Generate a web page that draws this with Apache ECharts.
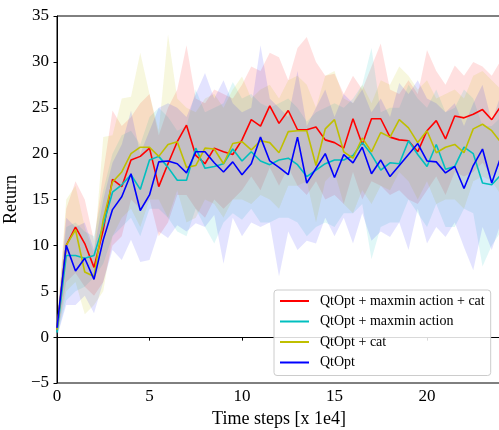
<!DOCTYPE html>
<html><head><meta charset="utf-8">
<script src="https://cdn.jsdelivr.net/npm/echarts@6/dist/echarts.min.js"></script>
<style>html,body{margin:0;padding:0;background:#fff}#c{width:499px;height:430px}</style>
</head><body><div id="c"></div>
<script>
const steps = [0,0.5,1,1.5,2,2.5,3,3.5,4,4.5,5,5.5,6,6.5,7,7.5,8,8.5,9,9.5,10,10.5,11,11.5,12,12.5,13,13.5,14,14.5,15,15.5,16,16.5,17,17.5,18,18.5,19,19.5,20,20.5,21,21.5,22,22.5,23,23.5,24];
const xTicks = [0,5,10,15,20];
const yTicks = [-5,0,5,10,15,20,25,30,35];
const seriesNames = ['QtOpt + maxmin action + cat','QtOpt + maxmin action','QtOpt + cat','QtOpt'];

const redMean = [0.8,10,12,10.2,7.6,11.7,17.2,16.4,19.3,19.7,20.6,16.4,18.9,21.3,23.1,19.8,18.9,20.6,20.2,19.9,21.5,23.7,23.0,25.2,23.3,24.7,22.6,22.6,22.9,21.5,21.2,20.6,23.8,21.0,23.8,23.8,21.8,21.5,21.4,20.2,22.5,23.6,21.6,24.1,23.9,24.3,24.8,23.7,25.2];
const redUpper = [1.5,14,17,15,10.5,18,24.7,23,24,25.5,26.5,22,25,27,31.8,26,25.5,27,26.5,26,27.5,29.5,29,31,30.5,28,31.5,32.7,30,28.5,28.7,26.5,28.5,27,29.5,32,27,26.5,28,26.5,31.3,29,27.5,29.6,28.5,30,29.5,28.5,30.2];
const redLower = [0,6,7,5.5,4.5,6,10,11,15,14,15,11,12.5,15.5,15.5,14,13,15,14,15,16,17.5,16,18.5,16.5,18.5,16.5,15.5,17,15,15.5,14.5,18,15,17,16.5,15.5,16,15,14.5,16,17.5,15.5,18,17.5,18,19,17.5,19];

const cyanMean = [0.5,8.9,8.9,8.6,8.9,12.2,15.8,16.6,17.7,16.1,19.3,19.7,18.5,17.1,17.1,20.6,18.4,18.6,18.9,20.5,19.2,20.2,19.2,18.8,19.3,19.5,18.8,17.5,18.2,18.9,19.3,19.3,19.8,21.2,19.9,18.2,19.0,18.9,21.4,19.9,18.6,21.0,18.3,18.6,20.7,20.0,16.8,16.6,17.7];
const cyanUpper = [1.5,12,12.5,11.5,11,16,20,22,22.5,21,24,25,24,22.5,23,27,24.5,25,25.5,27.8,26,26.5,25.5,25,25.5,26,25,23.5,24.5,25,25.5,25,26,27.5,31.5,24.5,25,25,27.5,26,25,27,24.5,25,27,26,23,23,24];
const cyanLower = [0,4,5,5.5,6.5,8,11,12,13,11,14,14,13,11.5,11,14,12,10.2,12.5,13.5,12.8,14,12.5,12.5,13,13,12.5,11,12,12.5,12,13.5,13.5,14.5,8.5,12,12.5,12.5,15,13.5,12,14.5,12,12,14,13.5,7.7,10,11.5];

const yellowMean = [0.8,10,11.7,7.1,6.6,12.8,16.9,18.0,20.0,20.7,20.7,19.7,21.0,21.3,18.5,18.7,20.6,20.5,18.9,21.1,21.3,20.4,21.4,21.2,20.1,22.4,22.5,22.5,18.7,22.7,23.7,20.2,19.5,21.7,20.2,22.3,21.8,23.7,22.8,21.2,22.5,20.1,20.7,21.0,20.1,22.7,23.2,22.5,21.2];
const yellowUpper = [1.5,15,16.5,12,9,21.8,22,26,26.2,31,26.5,22.5,33,26,25,24.5,26,26.5,25,27,28.4,26,27,27.5,26,28,28.5,27.5,25,28.5,29,26,25.5,27.5,25.5,28,27.5,29.5,28.5,27,28,26,26.5,27,26,28.5,29,28,27];
const yellowLower = [0,5,6,2.5,3.5,5,11,13,14,12,15,15,13,16,12.5,13,15,14.5,13,15,15,14.5,15.5,15,14,16.5,16.5,17,12.5,17,18,14.5,13.5,16,14.5,16.5,16,18,17,15,17,14.5,15,15,14,17,17.5,17,15.5];

const blueMean = [1.0,10,7.2,8.6,6.3,10.6,13.9,15.3,17.8,13.8,15.5,19.1,19.2,18.9,17.9,20.2,20.2,19.0,18.0,19.1,17.7,18.9,21.8,19.2,18.5,17.7,21.8,16.8,18.4,20.0,17.4,19.9,19.0,20.7,17.8,19.3,17.5,18.7,19.9,21.1,19.2,19.1,17.9,18.6,16.2,18.7,20.5,16.8,19.7];
const blueUpper = [1.5,13,12,12.5,9.5,15,19,21,24.7,20,22.5,25,25.5,25,24,26.5,28.8,26,28,25.5,24.5,25,31.8,26,25,24,29,23,25,27,24,26.5,25.5,27,24.5,26,24,27.7,26.5,28,26,25.5,24.5,25.5,23,25.5,27.5,23.5,26.5];
const blueLower = [0,3.5,3.5,4.5,2.6,6,9.5,8.4,10.6,8.2,8.4,11.5,10.8,12.2,11.5,12.4,12,13.3,8,13,11,12.5,12,12.5,6.6,11.5,9.5,10.5,10.2,13,11,13,10.2,13.5,10.5,11.5,10.9,12.5,9.5,14,10.2,12,10.9,12.5,9.8,7.3,12,9.5,12.5];

const means = [redMean, cyanMean, yellowMean, blueMean];
const uppers = [redUpper, cyanUpper, yellowUpper, blueUpper];
const lowers = [redLower, cyanLower, yellowLower, blueLower];
const lineColors = ['#ff0000','#00bfbf','#bfbf00','#0000ff'];
const bandColors = ['rgba(255,0,0,0.12)','rgba(0,191,191,0.12)','rgba(191,191,0,0.13)','rgba(0,0,255,0.11)'];
const FONT = "'Liberation Serif','DejaVu Serif','Times New Roman',serif";

const series = [];
for (let k = 0; k < 4; k++) {
  const up = uppers[k], lo = lowers[k], fill = bandColors[k];
  series.push({
    type: 'custom', name: 'band' + k, silent: true, z: 1,
    data: steps.map((x, i) => [x, lo[i], up[i]]),
    encode: { x: 0, y: [1, 2] },
    renderItem: function (params, api) {
      if (params.dataIndex !== 0) return null;
      const pts = [];
      for (let i = 0; i < steps.length; i++) pts.push(api.coord([steps[i], up[i]]));
      for (let i = steps.length - 1; i >= 0; i--) pts.push(api.coord([steps[i], lo[i]]));
      return { type: 'polygon', shape: { points: pts }, style: { fill: fill, stroke: null } };
    }
  });
}
for (let k = 0; k < 4; k++) {
  series.push({
    type: 'line', name: seriesNames[k],
    data: steps.map((x, i) => [x, means[k][i]]),
    symbol: 'none', showSymbol: false, color: lineColors[k],
    lineStyle: { width: 1.6, color: lineColors[k] }, z: 3 + k, silent: true
  });
}

const chart = echarts.init(document.getElementById('c'), null, { renderer: 'canvas' });
chart.setOption({
  animation: false,
  backgroundColor: '#fff',
  grid: { left: 57, top: 16, right: -2, bottom: 47, containLabel: false, outerBoundsMode: 'none',
    show: true, borderColor: '#000', borderWidth: 1, backgroundColor: 'transparent' },
  legend: {
    data: seriesNames, orient: 'vertical', left: 274, top: 290,
    icon: 'rect', itemWidth: 29, itemHeight: 2, itemGap: 6.5,
    padding: [4, 6, 6, 6],
    backgroundColor: 'rgba(255,255,255,0.85)', borderColor: '#cccccc', borderWidth: 1, borderRadius: 3,
    textStyle: { fontFamily: FONT, fontSize: 14, color: '#000', padding: [0, 0, 0, 6], height: 14, lineHeight: 14 },
    selectedMode: false
  },
  xAxis: {
    type: 'value', min: 0, max: 24, interval: 5,
    name: 'Time steps [x 1e4]', nameLocation: 'middle', nameGap: 24,
    nameTextStyle: { fontFamily: FONT, fontSize: 18, color: '#000' },
    axisLine: { show: true, lineStyle: { color: '#000', width: 1 } },
    axisTick: { show: true, length: 3.5, lineStyle: { color: '#000' }, customValues: xTicks },
    axisLabel: { fontFamily: FONT, fontSize: 17, color: '#000', margin: 5, customValues: xTicks },
    splitLine: { show: false }
  },
  yAxis: {
    type: 'value', min: -5, max: 35, interval: 5,
    name: 'Return', nameLocation: 'middle', nameGap: 32, nameRotate: 90,
    nameTextStyle: { fontFamily: FONT, fontSize: 18, color: '#000' },
    axisLine: { show: true, lineStyle: { color: '#000', width: 1 } },
    axisTick: { show: true, length: 3.5, lineStyle: { color: '#000' }, customValues: yTicks },
    axisLabel: { fontFamily: FONT, fontSize: 17, color: '#000', margin: 8, customValues: yTicks,
      formatter: v => String(v).replace('-', '\u2212') },
    splitLine: { show: false }
  },
  series: series
});
</script>
</body></html>
